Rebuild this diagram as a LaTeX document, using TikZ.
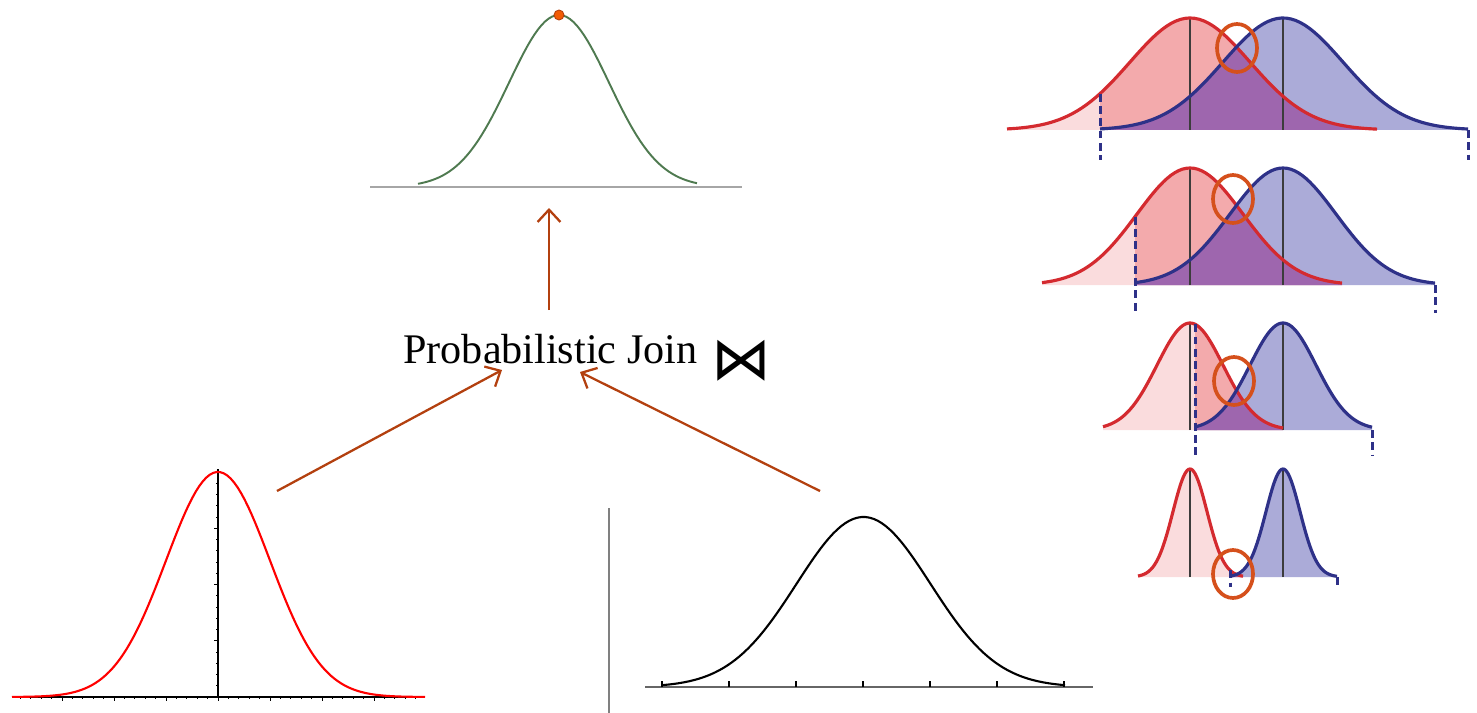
\documentclass[tikz,border=0pt]{standalone}
\usepackage{fontspec}
\setmainfont{Liberation Serif}
\newfontfamily\symfont{DejaVu Sans}
\usetikzlibrary{arrows.meta}

\definecolor{arrowbrown}{HTML}{B3400F}
\definecolor{ringorange}{HTML}{D5501C}
\definecolor{curvered}{HTML}{D42A2F}
\definecolor{curveblue}{HTML}{2E3188}
\definecolor{pinklight}{HTML}{FADCDD}
\definecolor{pinkmid}{HTML}{F3AAAC}
\definecolor{bluefill}{HTML}{ABABD8}
\definecolor{purplefill}{HTML}{9E66AE}
\definecolor{meangrey}{HTML}{3C3C3C}
\definecolor{topgreen}{HTML}{4F7A50}
\definecolor{dotorange}{HTML}{F25C05}

\tikzset{
  declare function={gs(\t,\m,\s)=exp(-((\t-\m)/\s)^2/2);},
  joinarrow/.style={draw=arrowbrown, line width=1.3pt, -{Straight Barb[length=7pt,width=13pt]}},
  ring/.style={draw=ringorange, line width=2.1pt},
  redline/.style={draw=curvered, line width=1.8pt},
  blueline/.style={draw=curveblue, line width=1.8pt},
  meanline/.style={draw=meangrey, line width=0.8pt},
  cutline/.style={draw=curveblue, line width=1.7pt, dash pattern=on 4.5pt off 2.5pt},
  axisline/.style={draw=black, line width=0.6pt},
}

\begin{document}
\begin{tikzpicture}[x=0.02cm, y=-0.02cm]
    \useasboundingbox (0,0) rectangle (1477,713);

    % result curve on top
    \draw[gray!70, line width=1.1pt] (370,187) -- (742,187);
    \draw[topgreen, line width=1.1pt] plot[domain=418:697, samples=80] (\x, {187-172*gs(\x,559,50)});
    \node[circle, fill=dotorange, draw=arrowbrown, line width=0.5pt, inner sep=0pt, minimum size=0.2cm] (peak) at (559,15) {};

    % join label
    \node[anchor=base west, inner sep=0pt, font=\fontsize{24}{28}\selectfont] (join) at (403,363) {Probabilistic Join};
    \node[inner sep=0pt, font=\symfont\fontsize{34}{34}\selectfont] (bowtie) at (741,361) {⋈};

    % arrows
    \coordinate (upfrom) at (549,310);
    \coordinate (upto) at (549,208);
    \coordinate (leftfrom) at (277,491);
    \coordinate (leftto) at (502,370);
    \coordinate (rightfrom) at (820,491);
    \coordinate (rightto) at (580,372);
    \draw[joinarrow] (upfrom) -- (upto);
    \draw[joinarrow] (leftfrom) -- (leftto);
    \draw[joinarrow] (rightfrom) -- (rightto);

    % left input (red)
    \draw[axisline] (12,697) -- (425,697);
    \draw[axisline] (218,469) -- (218,697);
    \foreach \i in {-19,...,19} {
        \pgfmathsetmacro{\tl}{ifthenelse(mod(abs(\i),5)==0,4,2)}
        \draw[axisline, line width=0.4pt] ({218+\i*10.4},697) -- ++(0,\tl);
    }
    \foreach \j in {1,...,20} {
        \pgfmathsetmacro{\tl}{ifthenelse(mod(\j,5)==0,4,2)}
        \draw[axisline, line width=0.4pt] (218,{697-\j*11.25}) -- ++(-\tl,0);
    }
    \draw[red, line width=1.2pt] plot[domain=12:425, samples=120] (\x, {697-225*gs(\x,218,52)});

    % right input (black)
    \draw[gray, line width=0.6pt] (609,508) -- (609,713);
    \draw[gray!80!black, line width=0.8pt] (645,687) -- (1093,687);
    \foreach \k in {0,...,6}
        \draw[black, line width=0.6pt] ({662+\k*67},687) -- ++(0,-6);
    \draw[black, line width=1.2pt] plot[domain=662:1065, samples=100] (\x, {687-170*gs(\x,863.5,67)});

    % overlapping pairs
    \foreach \yb/\hh/\sg/\rs/\re/\ct/\be/\dy/\cx/\cy/\mc in {
        130/112/60/1007/1377/1100/1468/30/1237/48/pinkmid,
        285/117/53/1042/1342/1135/1435/28/1233/199/pinkmid,
        430/107/33/1103/1283/1195/1372/25/1234/381/pinkmid,
        577/108/17/1138/1243/1230/1337/10/1233/574/pinklight} {
        \fill[pinklight] (\rs,\yb) -- plot[domain=\rs:\re, samples=80] (\x, {\yb-\hh*gs(\x,1190,\sg)}) -- (\re,\yb) -- cycle;
        \fill[\mc] (\ct,\yb) -- plot[domain=\ct:\re, samples=60] (\x, {\yb-\hh*gs(\x,1190,\sg)}) -- (\re,\yb) -- cycle;
        \fill[bluefill] (\ct,\yb) -- plot[domain=\ct:\be, samples=80] (\x, {\yb-\hh*gs(\x,1283,\sg)}) -- (\be,\yb) -- cycle;
        \begin{scope}
            \clip (\ct,\yb) -- plot[domain=\ct:\be, samples=80] (\x, {\yb-\hh*gs(\x,1283,\sg)}) -- (\be,\yb) -- cycle;
            \fill[purplefill] (\ct,\yb) -- plot[domain=\ct:\re, samples=60] (\x, {\yb-\hh*gs(\x,1190,\sg)}) -- (\re,\yb) -- cycle;
        \end{scope}
        \draw[meanline] (1190,\yb) -- (1190,\yb-\hh);
        \draw[meanline] (1283,\yb) -- (1283,\yb-\hh);
        \draw[redline] plot[domain=\rs:\re, samples=80] (\x, {\yb-\hh*gs(\x,1190,\sg)});
        \draw[blueline] plot[domain=\ct:\be, samples=80] (\x, {\yb-\hh*gs(\x,1283,\sg)});
        \draw[cutline] (\ct, {\yb-\hh*gs(\ct,1190,\sg)}) -- (\ct,\yb+\dy);
        \draw[cutline] (\be,\yb) -- (\be,\yb+\dy);
        \draw[ring] (\cx,\cy) ellipse [x radius=20, y radius=24];
    }
\end{tikzpicture}
\end{document}
